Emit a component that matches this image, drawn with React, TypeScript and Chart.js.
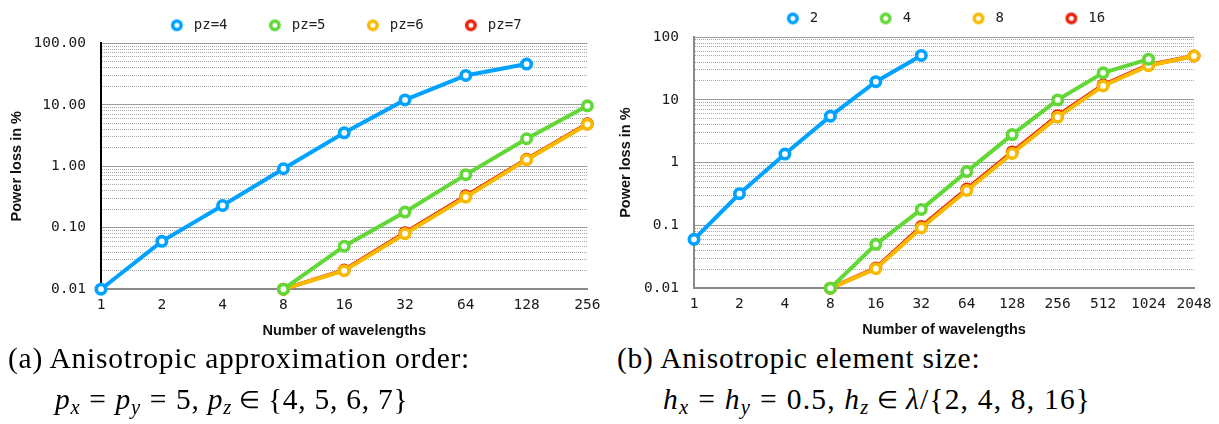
import React, { useEffect, useRef } from 'react';
import { Chart, registerables } from 'chart.js';

Chart.register(...registerables);

// Panel (a): anisotropic approximation order, p_z in {4, 5, 6, 7}
const orderWavelengths = ['1', '2', '4', '8', '16', '32', '64', '128', '256'];
const lossPz4 = [0.01, 0.06, 0.23, 0.91, 3.5, 12, 30, 46, null];
const lossPz5 = [null, null, null, 0.01, 0.05, 0.18, 0.73, 2.8, 9.6];
const lossPz6 = [null, null, null, 0.01, 0.02, 0.08, 0.315, 1.28, 4.8];
const lossPz7 = [null, null, null, 0.01, 0.0205, 0.083, 0.33, 1.3, 4.9];

// Panel (b): anisotropic element size, h_z in lambda / {2, 4, 8, 16}
const sizeWavelengths = ['1', '2', '4', '8', '16', '32', '64', '128', '256', '512', '1024', '2048'];
const lossH2 = [0.06, 0.32, 1.37, 5.5, 19.5, 51, null, null, null, null, null, null];
const lossH4 = [null, null, null, 0.01, 0.05, 0.18, 0.72, 2.8, 10, 27, 44.5, null];
const lossH8 = [null, null, null, 0.01, 0.0204, 0.091, 0.36, 1.4, 5.3, 16.7, 35, 50];
const lossH16 = [null, null, null, 0.01, 0.021, 0.096, 0.38, 1.48, 5.6, 17.3, 36, 50];

// Log axis: labelled decades plus 2..9 minor lines in each decade
const lossDecades = [0.01, 0.1, 1, 10, 100];
const decadeSteps = [1, 2, 3, 4, 5, 6, 7, 8, 9];

const BLUE = '#00A2FF';
const GREEN = '#61D836';
const ORANGE = '#F8BA00';
const RED = '#EE220C';

const yTickValues = lossDecades.flatMap((d, i) =>
  i === lossDecades.length - 1 ? [d] : decadeSteps.map((s) => +(d * s).toPrecision(6))
);
const isDecade = (v: number) => lossDecades.some((d) => Math.abs(v / d - 1) < 1e-6);

type Series = { label: string; data: (number | null)[]; color: string };
type Panel = {
  labels: string[];
  series: Series[];
  yTickFormat: (v: number) => string;
  yBorderColor: string;
  legendPadding: number;
  legendGap: number;
  left: number;
  top: number;
  width: number;
  height: number;
  yAxisWidth: number;
  paddingRight: number;
};

const panelA: Panel = {
  labels: orderWavelengths,
  series: [
    { label: 'pz=4', data: lossPz4, color: BLUE },
    { label: 'pz=5', data: lossPz5, color: GREEN },
    { label: 'pz=6', data: lossPz6, color: ORANGE },
    { label: 'pz=7', data: lossPz7, color: RED },
  ],
  yTickFormat: (v) => v.toFixed(2),
  yBorderColor: '#000000',
  legendPadding: 37.3,
  legendGap: 1,
  left: 0,
  top: -19,
  width: 608,
  height: 361,
  yAxisWidth: 101,
  paddingRight: 16,
};

const panelB: Panel = {
  labels: sizeWavelengths,
  series: [
    { label: '2', data: lossH2, color: BLUE },
    { label: '4', data: lossH4, color: GREEN },
    { label: '8', data: lossH8, color: ORANGE },
    { label: '16', data: lossH16, color: RED },
  ],
  yTickFormat: (v) => String(+v.toPrecision(3)),
  yBorderColor: '#8a8a8a',
  legendPadding: 57.4,
  legendGap: 1.7,
  left: 609,
  top: -46,
  width: 610,
  height: 387,
  yAxisWidth: 85,
  paddingRight: 23,
};

const MONO = 'DejaVu Sans Mono';
const SANS = 'Liberation Sans';

// Adds a little extra room between the legend row and the plot area
const legendGap = {
  id: 'legendGap',
  beforeLayout(chart: any, _args: any, opts: any) {
    const legend = chart.legend;
    if (legend && !legend.__gapPatched) {
      const fit = legend.fit.bind(legend);
      legend.fit = () => {
        fit();
        legend.height += opts.gap || 0;
      };
      legend.__gapPatched = true;
    }
  },
};

// Hollow ring used as the legend marker
function ringMarker(color: string) {
  const c = document.createElement('canvas');
  c.width = 16;
  c.height = 16;
  const g = c.getContext('2d')!;
  g.beginPath();
  g.arc(8, 8, 4.25, 0, Math.PI * 2);
  g.fillStyle = '#ffffff';
  g.fill();
  g.lineWidth = 3.5;
  g.strokeStyle = color;
  g.stroke();
  return c;
}

function LossChart({ panel }: { panel: Panel }) {
  const ref = useRef<HTMLCanvasElement | null>(null);

  useEffect(() => {
    const canvas = ref.current;
    if (!canvas) return;
    const rings = panel.series.map((s) => ringMarker(s.color));
    const titleFont = { family: SANS, weight: 'bold' as const, size: 14.5 };
    const tickFont = { family: MONO, size: 14.5 };

    const chart = new Chart(canvas, {
      type: 'line',
      data: {
        labels: panel.labels,
        datasets: panel.series.map((s) => ({
          label: s.label,
          data: s.data,
          borderColor: s.color,
          backgroundColor: s.color,
          borderWidth: 4,
          tension: 0,
          pointRadius: 4.7,
          pointHoverRadius: 4.7,
          pointBorderWidth: 3.6,
          pointBackgroundColor: '#ffffff',
          pointBorderColor: s.color,
          clip: false as any,
        })),
      },
      options: {
        responsive: false,
        animation: false,
        events: [],
        layout: {
          autoPadding: false,
          padding: { top: 0, right: panel.paddingRight, bottom: 0, left: 0 },
        },
        plugins: {
          tooltip: { enabled: false },
          legend: {
            display: true,
            position: 'top',
            align: 'center',
            fullSize: false,
            labels: {
              usePointStyle: true,
              pointStyleWidth: 20,
              padding: panel.legendPadding,
              color: '#222222',
              font: { family: MONO, size: 14 },
              generateLabels: (c: any) =>
                (Chart.defaults.plugins.legend.labels as any)
                  .generateLabels(c)
                  .map((item: any, i: number) => ({ ...item, pointStyle: rings[i] })),
            },
          },
          legendGap: { gap: panel.legendGap },
        } as any,
        scales: {
          x: {
            type: 'category',
            offset: false,
            grid: { display: false, drawTicks: false },
            border: { display: true, color: '#8a8a8a', width: 2 },
            ticks: {
              autoSkip: false,
              maxRotation: 0,
              padding: 7.5,
              color: '#1a1a1a',
              font: tickFont,
            },
            title: {
              display: true,
              text: 'Number of wavelengths',
              color: '#111111',
              font: titleFont,
              padding: { top: 1, bottom: 2 },
            },
          },
          y: {
            type: 'logarithmic',
            min: 0.01,
            max: 100,
            afterBuildTicks: (scale: any) => {
              scale.ticks = yTickValues.map((value) => ({ value, major: isDecade(value) }));
            },
            afterFit: (scale: any) => {
              scale.width = panel.yAxisWidth;
            },
            grid: {
              drawTicks: false,
              lineWidth: 1,
              color: (ctx: any) =>
                ctx.tick && isDecade(ctx.tick.value) ? '#9c9c9c' : '#a8a8a8',
            },
            border: {
              display: true,
              color: panel.yBorderColor,
              width: 2,
              dash: (ctx: any) => (ctx.tick && !isDecade(ctx.tick.value) ? [1, 1] : []),
            },
            ticks: {
              autoSkip: false,
              padding: 15,
              color: '#1a1a1a',
              font: tickFont,
              callback: (v: any) => (isDecade(+v) ? panel.yTickFormat(+v) : ''),
            },
            title: {
              display: true,
              text: 'Power loss in %',
              color: '#111111',
              font: titleFont,
              padding: { top: 8, bottom: 4 },
            },
          },
        },
      } as any,
      plugins: [legendGap as any],
    });

    return () => chart.destroy();
  }, [panel]);

  return (
    <canvas
      ref={ref}
      width={panel.width}
      height={panel.height}
      style={{ position: 'absolute', left: panel.left, top: panel.top, display: 'block' }}
    />
  );
}

const Sub = ({ children }: { children: React.ReactNode }) => (
  <span style={{ fontSize: '0.7em', fontStyle: 'italic', position: 'relative', top: '0.24em' }}>
    {children}
  </span>
);
const V = ({ children }: { children: React.ReactNode }) => (
  <span style={{ fontStyle: 'italic' }}>{children}</span>
);
const Rel = ({ children }: { children: React.ReactNode }) => (
  <span style={{ margin: '0 0.3em' }}>{children}</span>
);
const Elem = () => (
  <span style={{ margin: '0 0.3em', fontSize: '0.8em', position: 'relative', top: '-0.05em' }}>∈</span>
);

const captionStyle: React.CSSProperties = {
  position: 'absolute',
  fontFamily: '"Liberation Serif", serif',
  fontSize: 29.5,
  lineHeight: '34px',
  letterSpacing: '0.75px',
  color: '#000',
  whiteSpace: 'nowrap',
};

export default function App() {
  return (
    <div
      style={{
        position: 'absolute',
        left: 0,
        top: 0,
        width: 1219,
        height: 424,
        overflow: 'hidden',
        background: '#ffffff',
      }}
    >
      <LossChart panel={panelA} />
      <LossChart panel={panelB} />

      <div style={{ ...captionStyle, left: 8, top: 341 }}>(a) Anisotropic approximation order:</div>
      <div style={{ ...captionStyle, left: 55, top: 382 }}>
        <V>p</V>
        <Sub>x</Sub>
        <Rel>=</Rel>
        <V>p</V>
        <Sub>y</Sub>
        <Rel>=</Rel>5, <V>p</V>
        <Sub>z</Sub>
        <Elem />
        {'{4, 5, 6, 7}'}
      </div>

      <div style={{ ...captionStyle, left: 617, top: 341 }}>(b) Anisotropic element size:</div>
      <div style={{ ...captionStyle, left: 663, top: 382, letterSpacing: '1.2px' }}>
        <V>h</V>
        <Sub>x</Sub>
        <Rel>=</Rel>
        <V>h</V>
        <Sub>y</Sub>
        <Rel>=</Rel>0.5, <V>h</V>
        <Sub>z</Sub>
        <Elem />
        <V>λ</V>
        {'/{2, 4, 8, 16}'}
      </div>
    </div>
  );
}
